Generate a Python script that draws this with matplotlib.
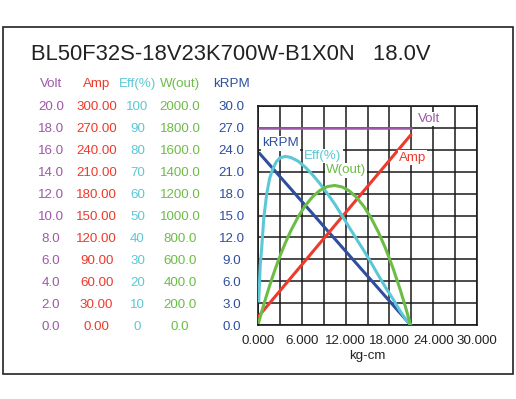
import matplotlib
matplotlib.use("Agg")
import matplotlib.pyplot as plt
from matplotlib.patches import Rectangle
from matplotlib.ticker import MultipleLocator

plt.rcParams['font.family'] = ['Liberation Sans', 'DejaVu Sans']

title = "BL50F32S-18V23K700W-B1X0N   18.0V"

# torque in kg-cm
torque = [0.1, 0.3, 0.5, 0.8, 1.2, 1.6, 2.0, 2.5, 3.0, 3.7, 4.5, 5.5, 6.5, 7.5,
          8.5, 9.5, 10.5, 11.5, 12.5, 13.5, 14.5, 15.5, 16.5, 17.5, 18.5, 19.5,
          20.2, 20.9]
volt = [18.0, 18.0, 18.0, 18.0, 18.0, 18.0, 18.0, 18.0, 18.0, 18.0, 18.0, 18.0,
        18.0, 18.0, 18.0, 18.0, 18.0, 18.0, 18.0, 18.0, 18.0, 18.0, 18.0, 18.0,
        18.0, 18.0, 18.0, 18.0]
amp = [12.2, 14.6, 17.0, 20.5, 25.3, 30.1, 34.8, 40.8, 46.7, 55.1, 64.6, 76.5,
       88.4, 100.4, 112.3, 124.2, 136.1, 148.0, 159.9, 171.8, 183.8, 195.7,
       207.6, 219.5, 231.4, 243.3, 251.7, 260.0]
eff = [11.0, 27.0, 35.0, 49.0, 60.0, 67.0, 71.0, 74.5, 76.3, 77.0, 76.5, 74.8,
       72.0, 68.5, 64.5, 60.0, 55.3, 50.0, 44.6, 39.2, 34.0, 28.4, 22.6, 17.0,
       11.8, 6.2, 2.8, 0.0]
wout = [24.3, 72.1, 119.0, 187.7, 275.9, 360.4, 441.1, 536.8, 626.7, 742.7,
        861.2, 988.5, 1092.3, 1172.8, 1230.0, 1263.9, 1274.3, 1261.5, 1225.3,
        1165.8, 1082.9, 976.7, 847.2, 694.4, 518.2, 318.6, 165.0, 0.0]
krpm = [23.64, 23.41, 23.18, 22.84, 22.39, 21.93, 21.48, 20.91, 20.34, 19.55,
        18.64, 17.50, 16.36, 15.23, 14.09, 12.95, 11.82, 10.68, 9.55, 8.41,
        7.27, 6.14, 5.00, 3.86, 2.73, 1.59, 0.80, 0.0]

x_ticks = [0, 6, 12, 18, 24, 30]
x_labels = ["0.000", "6.000", "12.000", "18.000", "24.000", "30.000"]
volt_ticks = [0, 2, 4, 6, 8, 10, 12, 14, 16, 18, 20]
volt_labels = ["0.0", "2.0", "4.0", "6.0", "8.0", "10.0", "12.0", "14.0", "16.0", "18.0", "20.0"]
amp_ticks = [0, 30, 60, 90, 120, 150, 180, 210, 240, 270, 300]
amp_labels = ["0.00", "30.00", "60.00", "90.00", "120.00", "150.00", "180.00",
              "210.00", "240.00", "270.00", "300.00"]
eff_ticks = [0, 10, 20, 30, 40, 50, 60, 70, 80, 90, 100]
eff_labels = ["0", "10", "20", "30", "40", "50", "60", "70", "80", "90", "100"]
w_ticks = [0, 200, 400, 600, 800, 1000, 1200, 1400, 1600, 1800, 2000]
w_labels = ["0.0", "200.0", "400.0", "600.0", "800.0", "1000.0", "1200.0",
            "1400.0", "1600.0", "1800.0", "2000.0"]
krpm_ticks = [0, 3, 6, 9, 12, 15, 18, 21, 24, 27, 30]
krpm_labels = ["0.0", "3.0", "6.0", "9.0", "12.0", "15.0", "18.0", "21.0",
               "24.0", "27.0", "30.0"]

c_volt = '#9E58A8'
c_amp = '#EE3A2C'
c_eff = '#5CC8D6'
c_w = '#6CBD45'
c_krpm = '#2F4F9E'
fs = 9.6

fig = plt.figure(figsize=(5.16, 3.99), dpi=100)
fig.patches.append(Rectangle((3 / 516, 25 / 399), 510 / 516, 347 / 399,
                             transform=fig.transFigure, fill=False,
                             lw=1.2, ec='#222222'))
fig.text(31 / 516, 1 - 60 / 399, title, fontsize=15.8, color='#222222',
         va='baseline', ha='left')

ax = fig.add_axes([258 / 516, 74 / 399, 219 / 516, 219 / 399])
ax.set_xlim(0, 30)
ax.set_ylim(0, 30)
ax.set_xticks(x_ticks)
ax.set_xticklabels(x_labels, fontsize=fs, color='#222222')
ax.xaxis.set_minor_locator(MultipleLocator(3))
ax.set_yticks(krpm_ticks)
ax.set_yticklabels(krpm_labels, ha='center', color=c_krpm, fontsize=fs)
ax.tick_params(axis='y', length=0, pad=19)
ax.tick_params(axis='x', which='both', length=0, pad=7)
ax.grid(True, which='both', color='#1a1a1a', lw=1.1)
for s in ax.spines.values():
    s.set_color('#1a1a1a')
    s.set_linewidth(1.2)
ax.set_xlabel("kg-cm", fontsize=fs, color='#222222', labelpad=2)


def label_column(top, ticks, labels, color, xpos):
    tw = ax.twinx()
    tw.set_ylim(0, top)
    tw.yaxis.set_ticks_position('left')
    tw.spines['left'].set_position(('axes', xpos))
    for s in tw.spines.values():
        s.set_visible(False)
    tw.set_yticks(ticks)
    tw.set_yticklabels(labels, ha='center', color=color, fontsize=fs)
    tw.tick_params(axis='y', length=0, pad=0)
    return tw


ax_volt = label_column(20, volt_ticks, volt_labels, c_volt, -0.945)
ax_amp = label_column(300, amp_ticks, amp_labels, c_amp, -0.737)
ax_eff = label_column(100, eff_ticks, eff_labels, c_eff, -0.550)
ax_w = label_column(2000, w_ticks, w_labels, c_w, -0.356)

# column headers
heads = [("Volt", c_volt, -0.945), ("Amp", c_amp, -0.737),
         ("Eff(%)", c_eff, -0.550), ("W(out)", c_w, -0.356),
         ("kRPM", c_krpm, -0.121)]
for txt, col, xp in heads:
    ax.text(xp, 1.10, txt, transform=ax.transAxes, ha='center', va='center',
            color=col, fontsize=fs, clip_on=False)

ax.plot(torque, krpm, color=c_krpm, lw=2.2, solid_capstyle='butt')
ax_volt.plot(torque, volt, color=c_volt, lw=1.8)
ax_amp.plot(torque, amp, color=c_amp, lw=2.2)
ax_eff.plot(torque, eff, color=c_eff, lw=2.2)
ax_w.plot(torque, wout, color=c_w, lw=2.2)

# curve names inside the plot (kRPM data coordinates)
names = [("kRPM", c_krpm, 0.55, 24.9), ("Eff(%)", c_eff, 6.3, 23.15),
         ("W(out)", c_w, 9.3, 21.2), ("Amp", c_amp, 19.3, 22.9),
         ("Volt", c_volt, 21.9, 28.2)]
for txt, col, xv, yv in names:
    ax_w.text(xv, yv, txt, transform=ax.transData, ha='left', va='center',
              color=col, fontsize=fs, zorder=10,
              bbox=dict(boxstyle='square,pad=0.1', fc='white', ec='none'))

fig.savefig("out.png", dpi=100)
